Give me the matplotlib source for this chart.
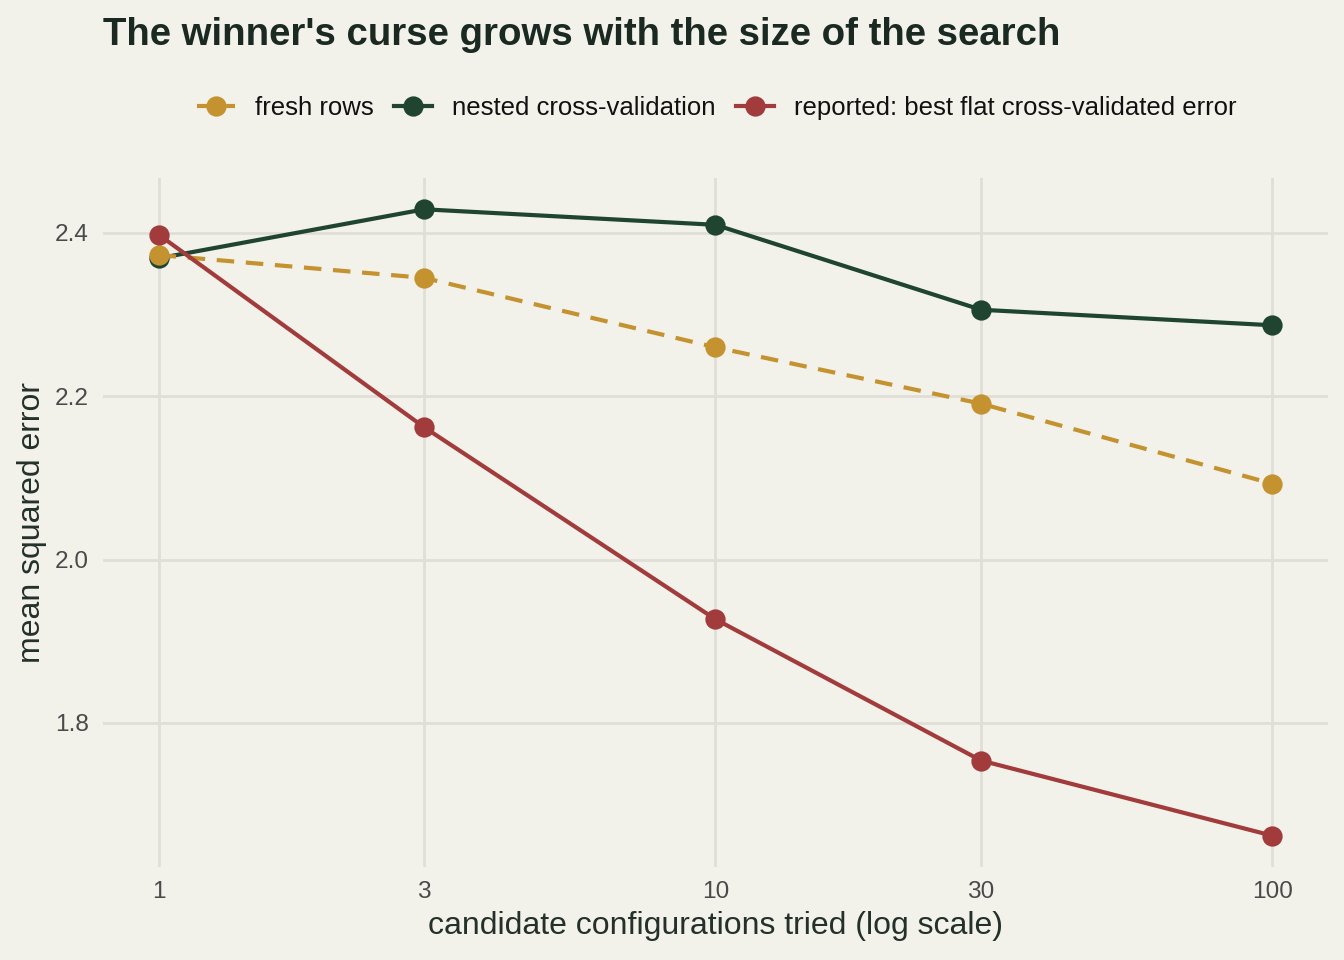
import matplotlib.pyplot as plt
import numpy as np

# -----------------------------
# Data
# -----------------------------
candidates = [1, 3, 10, 30, 100]
fresh_rows = [2.373, 2.345, 2.260, 2.191, 2.093]
nested_cv = [2.369, 2.429, 2.410, 2.306, 2.287]
reported_flat = [2.398, 2.162, 1.927, 1.754, 1.662]

labels = ["fresh rows", "nested cross-validation",
          "reported: best flat cross-validated error"]

bg = "#F2F1EA"
grid_col = "#E0DFD7"
gold = "#C4922F"
green = "#1F4530"
red = "#A23B3B"

plt.rcParams["font.family"] = ["Liberation Sans", "DejaVu Sans"]

fig = plt.figure(figsize=(6.72, 4.8), dpi=200, facecolor=bg)
ax = fig.add_axes([0.0766, 0.0969, 0.9114, 0.7177], facecolor=bg)

lw = 1.5
ms = 6.3
h_nested, = ax.plot(candidates, nested_cv, color=green, lw=lw, marker="o",
                    ms=ms, zorder=3, label=labels[1])
h_fresh, = ax.plot(candidates, fresh_rows, color=gold, lw=lw, marker="o",
                   ms=ms, ls=(0, (4.2, 2.8)), zorder=4, label=labels[0])
h_rep, = ax.plot(candidates, reported_flat, color=red, lw=lw, marker="o",
                 ms=ms, zorder=5, label=labels[2])

ax.set_xscale("log")
ax.set_xticks(candidates)
ax.set_xticklabels([str(c) for c in candidates])
ax.minorticks_off()
ax.set_xlim(10 ** -0.1, 10 ** 2.1)

ymin, ymax = min(reported_flat), max(nested_cv)
pad = (ymax - ymin) * 0.05
ax.set_ylim(ymin - pad, ymax + pad)
ax.set_yticks([1.8, 2.0, 2.2, 2.4])
ax.set_yticklabels(["1.8", "2.0", "2.2", "2.4"])

ax.grid(True, color=grid_col, lw=1.0)
ax.set_axisbelow(True)
for s in ax.spines.values():
    s.set_visible(False)
ax.tick_params(length=0, labelsize=8.8, labelcolor="#4a4a4a", pad=5)

ax.set_xlabel("candidate configurations tried (log scale)", fontsize=11.5,
              color="#24302a", labelpad=3)
ax.set_ylabel("mean squared error", fontsize=11.5, color="#24302a", labelpad=3)

fig.text(0.0766, 0.964, "The winner's curse grows with the size of the search",
         fontsize=13.8, fontweight="bold", color="#1a2a22", va="center", ha="left")

leg = fig.legend(handles=[h_fresh, h_nested, h_rep], labels=labels, ncol=3,
                 loc="center", bbox_to_anchor=(0.533, 0.888), frameon=False,
                 fontsize=9.25, handlelength=1.5, handletextpad=0.75,
                 columnspacing=0.8)
for t in leg.get_texts():
    t.set_color("#111111")

fig.savefig("out.png", dpi=200, facecolor=bg)
